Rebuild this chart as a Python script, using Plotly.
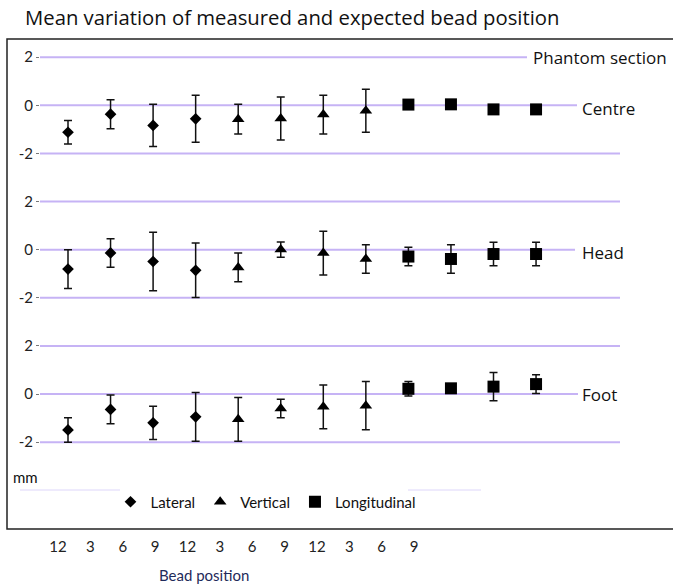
import plotly.graph_objects as go

# ---------------- data ----------------
bead_labels = ["12", "3", "6", "9", "12", "3", "6", "9", "12", "3", "6", "9"]
series_names = ["Lateral", "Vertical", "Longitudinal"]
series_index = [[0, 1, 2, 3], [4, 5, 6, 7], [8, 9, 10, 11]]
sections = ["Centre", "Head", "Foot"]

centre_mean = [-1.12, -0.37, -0.835, -0.56, -0.575, -0.545, -0.385, -0.225, 0.03, 0.04, -0.17, -0.17]
centre_err = [0.49, 0.60, 0.875, 0.98, 0.615, 0.895, 0.805, 0.895, 0.0, 0.0, 0.0, 0.0]

head_mean = [-0.805, -0.135, -0.49, -0.855, -0.735, 0.005, -0.14, -0.385, -0.285, -0.385, -0.18, -0.18]
head_err = [0.805, 0.595, 1.22, 1.135, 0.595, 0.315, 0.91, 0.595, 0.385, 0.595, 0.49, 0.49]

foot_mean = [-1.49, -0.635, -1.195, -0.945, -1.05, -0.595, -0.53, -0.48, 0.22, 0.24, 0.31, 0.415]
foot_err = [0.51, 0.595, 0.695, 1.015, 0.91, 0.385, 0.91, 1.0, 0.30, 0.0, 0.59, 0.385]

y_ticks = [-2, 0, 2]

# ---------------- styling ----------------
W, H = 673, 584
symbols = ["diamond", "triangle-up", "square"]
sizes = [9, 11, 12]
grid_col = "#c6b3f5"
faint_col = "#ddd6fa"
txt_font = "Open Sans"
cal_font = "Lato"


def px_x(p):
    return p / W


def px_y(p):
    return 1 - p / H


panel_means = [centre_mean, head_mean, foot_mean]
panel_errs = [centre_err, head_err, foot_err]
yaxes = ["y", "y2", "y3"]
# pixel zero-lines of the panels, 24.07 px per mm
zero_px = [105.3, 249.7, 394.1]
unit = 24.07

fig = go.Figure()

for p in range(3):
    for s in range(3):
        idx = series_index[s]
        fig.add_trace(go.Scatter(
            x=idx,
            y=[panel_means[p][i] for i in idx],
            error_y=dict(type="data", array=[panel_errs[p][i] for i in idx],
                         symmetric=True, thickness=1.5, width=4, color="#111111"),
            mode="markers",
            marker=dict(symbol=symbols[s], size=sizes[s], color="#000000"),
            name=series_names[s],
            legendgroup=series_names[s],
            showlegend=(p == 0),
            cliponaxis=False,
            xaxis="x",
            yaxis=yaxes[p],
            hoverinfo="skip",
        ))

# dummy trace to carry the bead-position label axis
fig.add_trace(go.Scatter(x=list(range(len(bead_labels))), y=[None] * len(bead_labels),
                         xaxis="x2", yaxis="y3", mode="markers", showlegend=False,
                         hoverinfo="skip"))

layout = dict(
    width=W, height=H,
    margin=dict(l=0, r=0, t=0, b=0),
    paper_bgcolor="white", plot_bgcolor="rgba(0,0,0,0)",
    showlegend=True,
    title=dict(text="Mean variation of measured and expected bead position",
               x=px_x(25), xanchor="left", y=px_y(18), yanchor="middle",
               font=dict(family=txt_font, size=20.3, color="#111111")),
    xaxis=dict(domain=[px_x(40), 1], range=[(40 - 68) / 42.55, (673 - 68) / 42.55],
               visible=False, anchor="y3"),
    xaxis2=dict(domain=[px_x(41.8), px_x(430.2)], range=[-0.5, 11.5],
                anchor="free", position=px_y(536), side="bottom",
                tickmode="array", tickvals=list(range(len(bead_labels))), ticktext=bead_labels,
                showgrid=False, zeroline=False, showline=False, ticks="",
                tickfont=dict(family=cal_font, size=15, color="#222222")),
    legend=dict(orientation="h", x=px_x(266), xanchor="center", y=px_y(502), yanchor="middle",
                font=dict(family=cal_font, size=15, color="#111111"),
                bgcolor="rgba(0,0,0,0)", itemwidth=30, tracegroupgap=0),
)

for p in range(3):
    top = zero_px[p] - 3 * unit
    bot = zero_px[p] + 3 * unit
    key = "yaxis" if p == 0 else "yaxis%d" % (p + 1)
    layout[key] = dict(domain=[px_y(bot), px_y(top)], range=[-3, 3], anchor="x",
                       tickmode="array", tickvals=y_ticks, ticktext=[str(v) for v in y_ticks],
                       showgrid=False, zeroline=False, showline=False,
                       ticks="outside", ticklen=3, tickcolor="#777777", tickwidth=1,
                       tickfont=dict(family=cal_font, size=15, color="#222222"))

fig.update_layout(**layout)

shapes = []
# gridlines (style: lengths per line)
line_ends = [[527, 577, 620], [620, 575, 620], [620, 578, 620]]
for p in range(3):
    for k, v in enumerate([2, 0, -2]):
        shapes.append(dict(type="line", xref="paper", yref=yaxes[p],
                           x0=px_x(40), x1=px_x(line_ends[p][k]), y0=v, y1=v,
                           line=dict(color=grid_col, width=2), layer="below"))
# faint fragments near the legend
for (a, b, yy) in [(20, 120, 490), (408, 481, 490), (383, 407, 506)]:
    shapes.append(dict(type="line", xref="paper", yref="paper",
                       x0=px_x(a), x1=px_x(b), y0=px_y(yy), y1=px_y(yy),
                       line=dict(color=faint_col, width=1), layer="below"))
# frame
shapes.append(dict(type="rect", xref="paper", yref="paper",
                   x0=px_x(7), x1=px_x(674), y0=px_y(529), y1=px_y(39),
                   line=dict(color="#222222", width=1.5), fillcolor="rgba(0,0,0,0)",
                   layer="below"))
fig.update_layout(shapes=shapes)

annotations = [
    dict(text="Phantom section", xref="paper", yref="y", x=px_x(531), y=2,
         xanchor="left", yanchor="middle", showarrow=False,
         font=dict(family=txt_font, size=17, color="#111111")),
]
for p, name in enumerate(sections):
    annotations.append(dict(text=name, xref="paper", yref=yaxes[p], x=px_x(580), y=0,
                            xanchor="left", yanchor="middle", yshift=-3 if p < 2 else 0,
                            showarrow=False,
                            font=dict(family=txt_font, size=17, color="#111111")))
annotations.append(dict(text="mm", xref="paper", yref="paper", x=px_x(11), y=px_y(477),
                        xanchor="left", yanchor="middle", showarrow=False,
                        font=dict(family=cal_font, size=15, color="#111111")))
annotations.append(dict(text="Bead position", xref="paper", yref="paper", x=px_x(204),
                        y=px_y(575), xanchor="center", yanchor="middle", showarrow=False,
                        font=dict(family=cal_font, size=15, color="#1f2a5a")))
fig.update_layout(annotations=annotations)

fig.write_html("out.html", config={"displayModeBar": False},
               post_script="document.body.style.margin='0px';document.body.style.overflow='hidden';")
